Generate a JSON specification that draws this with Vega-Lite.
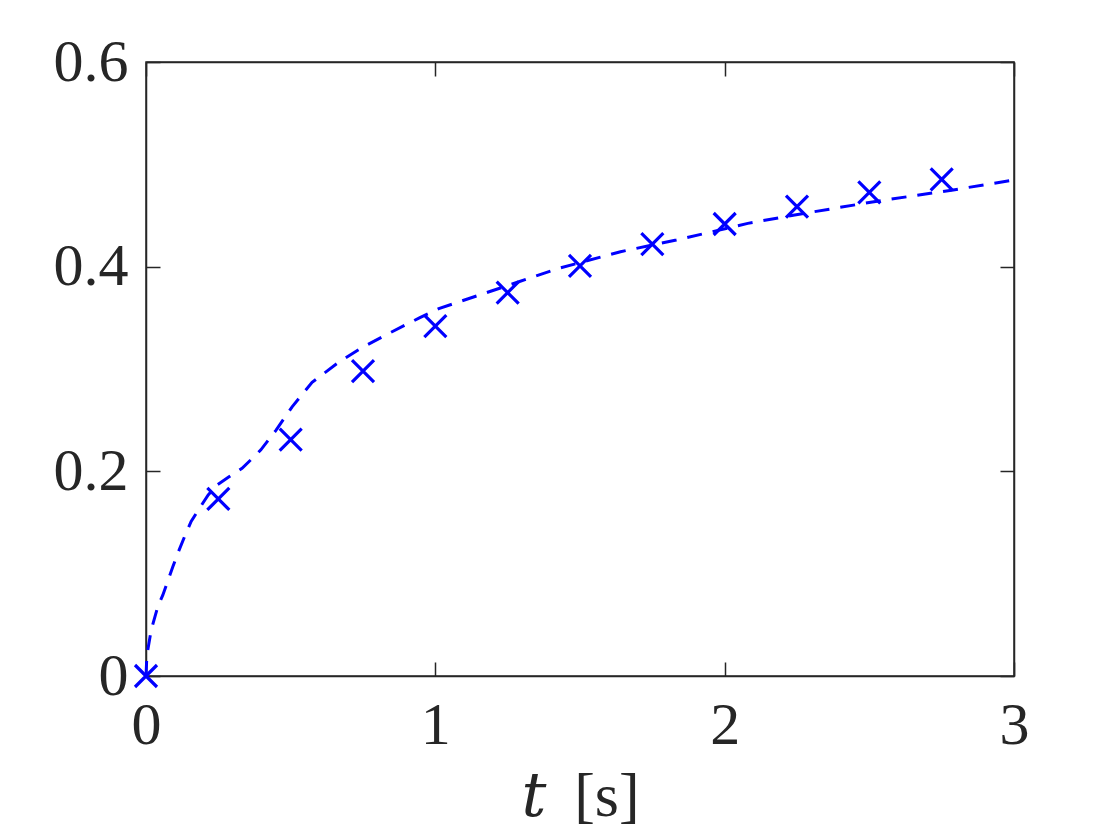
{
  "$schema": "https://vega.github.io/schema/vega-lite/v6.json",
  "width": 868,
  "height": 614,
  "autosize": "none",
  "padding": {"left": 146, "top": 62, "right": 106, "bottom": 164},
  "background": "white",
  "config": {
    "view": {"stroke": "#262626", "strokeWidth": 1.5},
    "axis": {
      "grid": false,
      "labelFont": "Liberation Serif",
      "labelFontSize": 60,
      "labelColor": "#262626",
      "tickColor": "#262626",
      "tickWidth": 1.5,
      "tickSize": -14,
      "domainColor": "#262626",
      "domainWidth": 1.5,
      "titleFont": "Liberation Serif, DejaVu Serif",
      "titleFontWeight": "normal",
      "titleColor": "#262626"
    }
  },
  "datasets": {
    "curve": [
      {"t": 0, "v": 0}, {"t": 0.003, "v": 0.02}, {"t": 0.018, "v": 0.045}, {"t": 0.041, "v": 0.068},
      {"t": 0.058, "v": 0.079}, {"t": 0.093, "v": 0.107}, {"t": 0.11, "v": 0.12}, {"t": 0.133, "v": 0.136},
      {"t": 0.156, "v": 0.151}, {"t": 0.185, "v": 0.164}, {"t": 0.215, "v": 0.177}, {"t": 0.247, "v": 0.187},
      {"t": 0.287, "v": 0.1946},
      {"t": 0.332, "v": 0.203}, {"t": 0.38, "v": 0.216}, {"t": 0.397, "v": 0.221}, {"t": 0.449, "v": 0.24},
      {"t": 0.505, "v": 0.263}, {"t": 0.574, "v": 0.287}, {"t": 0.668, "v": 0.307}, {"t": 0.747, "v": 0.321},
      {"t": 0.841, "v": 0.335}, {"t": 0.945, "v": 0.35}, {"t": 1.012, "v": 0.359}, {"t": 1.149, "v": 0.372},
      {"t": 1.286, "v": 0.385}, {"t": 1.422, "v": 0.398}, {"t": 1.64, "v": 0.4146}, {"t": 1.833, "v": 0.426},
      {"t": 2.08, "v": 0.4423}, {"t": 2.242, "v": 0.4505}, {"t": 2.516, "v": 0.4635}, {"t": 2.79, "v": 0.475},
      {"t": 3.0, "v": 0.4847}
    ],
    "markers": [
      {"t": 0, "v": 0}, {"t": 0.25, "v": 0.173}, {"t": 0.5, "v": 0.231}, {"t": 0.75, "v": 0.298},
      {"t": 1.0, "v": 0.342}, {"t": 1.25, "v": 0.3746}, {"t": 1.5, "v": 0.4007}, {"t": 1.75, "v": 0.422},
      {"t": 2.0, "v": 0.4417}, {"t": 2.25, "v": 0.4587}, {"t": 2.5, "v": 0.4727}, {"t": 2.75, "v": 0.4853}
    ]
  },
  "layer": [
    {
      "data": {"name": "curve"},
      "mark": {"type": "line", "color": "#0000FF", "strokeWidth": 3, "strokeDash": [15, 11], "interpolate": "linear"},
      "encoding": {
        "x": {
          "field": "t", "type": "quantitative",
          "scale": {"domain": [0, 3], "nice": false, "zero": false},
          "axis": {
            "orient": "bottom", "values": [0, 1, 2, 3], "format": "d",
            "labelPadding": 34, "labelFlush": false,
            "title": "𝑡 \u2009[s]", "titleFontSize": 62, "titleBaseline": "alphabetic",
            "titleY": 139, "titleAnchor": "middle"
          }
        },
        "y": {
          "field": "v", "type": "quantitative",
          "scale": {"domain": [0, 0.6], "nice": false, "zero": false},
          "axis": {
            "orient": "left", "values": [0, 0.2, 0.4, 0.6], "format": "~g",
            "labelPadding": 32, "labelFlush": false, "title": null
          }
        }
      }
    },
    {
      "data": {"name": "markers"},
      "mark": {"type": "point", "shape": "M-1,-1L1,1M-1,1L1,-1", "filled": false, "stroke": "#0000FF", "strokeWidth": 3.2, "size": 484, "opacity": 1, "clip": false},
      "encoding": {
        "x": {
          "field": "t", "type": "quantitative",
          "scale": {"domain": [0, 3], "nice": false, "zero": false},
          "axis": {"orient": "top", "values": [0, 1, 2, 3], "labels": false, "title": null}
        },
        "y": {
          "field": "v", "type": "quantitative",
          "scale": {"domain": [0, 0.6], "nice": false, "zero": false},
          "axis": {"orient": "right", "values": [0, 0.2, 0.4, 0.6], "labels": false, "title": null}
        }
      }
    }
  ],
  "resolve": {"axis": {"x": "independent", "y": "independent"}}
}
